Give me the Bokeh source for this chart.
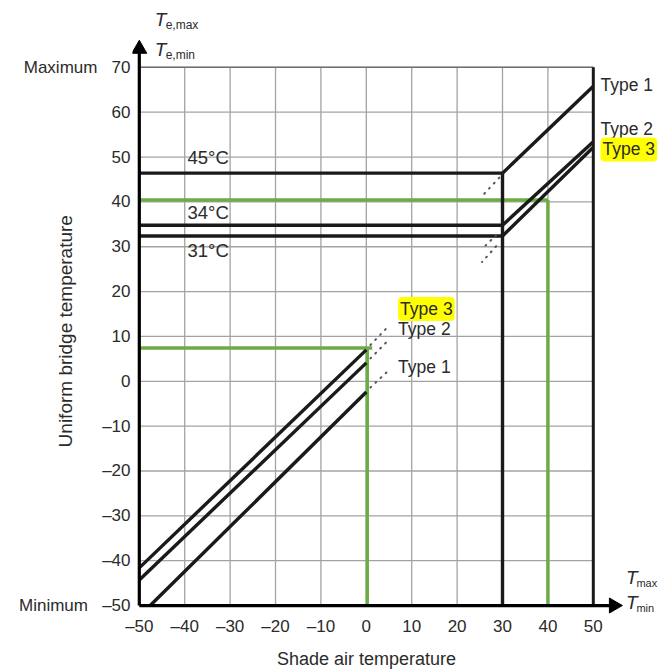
import math
from bokeh.plotting import figure
from bokeh.models import FixedTicker, Range1d, Label
from bokeh.embed import file_html
from bokeh.resources import INLINE

FONT = "Liberation Sans"
TXT = "#2b2b2b"
GREEN = "#6cab45"
BLACK = "#1a1a1a"
NB = "\u00a0"

# ---- data ----
x_ticks = [-50, -40, -30, -20, -10, 0, 10, 20, 30, 40, 50]
y_ticks = [-50, -40, -30, -20, -10, 0, 10, 20, 30, 40, 50, 60, 70]
y_tick_text = {70: "Maximum\u00a0\u00a0\u00a070", -50: "Minimum\u00a0\u00a0\u00a0\u201350"}

# maximum uniform bridge temperature (shade air T_max >= 30)
max_x = [30, 50]
t1_max = [46.4, 65.8]
t2_max = [34.8, 53.4]
t3_max = [32.4, 52.2]
cap_x = [-50, 30]
cap_levels = [46.4, 34.8, 32.4]
cap_labels = ["45°C", "34°C", "31°C"]
cap_label_y = [50.0, 37.7, 29.2]
split_x = 30

# minimum uniform bridge temperature
t1_min_x = [-47.6, 0]
t1_min_y = [-50, -2.4]
t2_min_x = [-50, 0]
t2_min_y = [-44.3, 4.1]
t3_min_x = [-50, 0]
t3_min_y = [-41.6, 7.0]

# dotted extensions
min_ext_x = [[0.9, 5.1], [0.9, 5.1], [0.9, 5.1]]
min_ext_y = [[-1.4, 2.6], [5.1, 9.4], [8.1, 12.5]]
max_ext_x = [[29.3, 25.5], [28.6, 25.5], [28.6, 25.5]]
max_ext_y = [[45.4, 41.3], [32.6, 29.5], [30.1, 26.6]]

# worked examples (green)
ex_min_T = 0.2
ex_min_Te = 7.4
ex_max_T = 40
ex_max_Te = 40.4

X0, X1 = x_ticks[0], x_ticks[-1]
Y0, Y1 = y_ticks[0], y_ticks[-1]

p = figure(width=660, height=671, x_range=Range1d(-51.5, 64.8), y_range=Range1d(-52, 84.9),
           output_backend="svg", toolbar_location=None,
           min_border_left=132, min_border_right=0, min_border_top=0, min_border_bottom=56)
p.background_fill_color = "white"
p.border_fill_color = "white"
p.outline_line_color = None
p.grid.visible = False

for ax, ticks in ((p.xaxis[0], x_ticks), (p.yaxis[0], y_ticks)):
    ax.ticker = FixedTicker(ticks=ticks)
    ax.major_label_overrides = {v: (f"\u2013{abs(v)}" if v < 0 else str(v)) for v in ticks}
    ax.axis_line_color = None
    ax.major_tick_line_color = None
    ax.minor_tick_line_color = None
    ax.major_tick_out = 0
    ax.major_tick_in = 0
    ax.major_label_text_font = FONT
    ax.major_label_text_font_size = "17px"
    ax.major_label_text_color = TXT
    ax.major_label_standoff = 2
    ax.axis_label_text_font = FONT
    ax.axis_label_text_font_style = "normal"
    ax.axis_label_text_color = TXT

p.yaxis[0].major_label_overrides = {**p.yaxis[0].major_label_overrides, **y_tick_text}
# trailing no-break spaces centre the titles on the chart box rather than the whole frame
p.xaxis.axis_label = "Shade air temperature" + NB * 12
p.yaxis.axis_label = "Uniform bridge temperature" + NB * 9
p.xaxis.axis_label_text_font_size = "18px"
p.yaxis.axis_label_text_font_size = "19px"
p.xaxis.axis_label_standoff = 10
p.yaxis.axis_label_standoff = -60

# grid (only inside the chart box)
p.segment(x0=x_ticks, y0=[Y0] * len(x_ticks), x1=x_ticks, y1=[Y1] * len(x_ticks),
          line_color="#a3a3a3", line_width=1.3)
p.segment(x0=[X0] * len(y_ticks), y0=y_ticks, x1=[X1] * len(y_ticks), y1=y_ticks,
          line_color="#a3a3a3", line_width=1.3)
p.line([X0, X1], [Y1, Y1], line_color="#6e6e6e", line_width=1.5)

# green worked examples
p.line([X0, ex_max_T], [ex_max_Te, ex_max_Te], line_color=GREEN, line_width=3.5)
p.line([ex_max_T, ex_max_T], [Y0, ex_max_Te], line_color=GREEN, line_width=3.5)
p.line([X0, ex_min_T + 1.1], [ex_min_Te, ex_min_Te], line_color=GREEN, line_width=3.5)
p.line([ex_min_T, ex_min_T], [Y0, ex_min_Te], line_color=GREEN, line_width=3.5)

BL = dict(line_color=BLACK, line_width=3.4)
for lvl in cap_levels:
    p.line(cap_x, [lvl, lvl], **BL)
p.line([split_x, split_x], [Y0, cap_levels[0]], **BL)
p.line(max_x, t1_max, **BL)
p.line(max_x, t2_max, **BL)
p.line(max_x, t3_max, **BL)
p.line(t1_min_x, t1_min_y, **BL)
p.line(t2_min_x, t2_min_y, **BL)
p.line(t3_min_x, t3_min_y, **BL)

DOT = dict(line_color="#555555", line_width=2, line_dash="1 6", line_cap="round")
p.multi_line(min_ext_x, min_ext_y, **DOT)
p.multi_line(max_ext_x, max_ext_y, **DOT)

# right border and axis spines with arrow heads
p.line([X1, X1], [Y0, Y1], line_color=BLACK, line_width=3)
p.line([X0, X0], [Y0, 74.1], line_color="black", line_width=3.2)
p.line([X0, 54.5], [Y0, Y0], line_color="black", line_width=3.2)
p.scatter([X0], [74.1], marker="triangle", size=15, fill_color="black", line_color="black")
p.scatter([54.5], [Y0], marker="triangle", size=15, angle=-math.pi / 2,
          fill_color="black", line_color="black")


def lbl(x, y, text, size="18px", align="left", style="normal", bg=None):
    kw = dict(x=x, y=y, text=text, text_font=FONT, text_font_size=size, text_color=TXT,
              text_align=align, text_baseline="middle", text_font_style=style)
    if bg:
        kw.update(background_fill_color=bg, padding=2, border_radius=4)
    p.add_layout(Label(**kw))


for t, yy in zip(cap_labels, cap_label_y):
    lbl(-39.4, yy, t, size="18.5px")

lbl(51.6, 66.0, "Type 1", size="17.5px")
lbl(51.6, 56.2, "Type 2", size="17.5px")
lbl(51.6, 51.7, "Type 3", size="17.5px", bg="#ffff00")
lbl(7.0, 16.1, "Type 3", size="17.5px", bg="#ffff00")
lbl(7.0, 11.6, "Type 2", size="17.5px")
lbl(7.0, 3.2, "Type 1", size="17.5px")

# axis symbols
lbl(-46.6, 80.7, "T", size="19px", style="italic")
lbl(-44.2, 79.4, "e,max", size="12px")
lbl(-46.6, 74.0, "T", size="19px", style="italic")
lbl(-44.2, 72.8, "e,min", size="12px")
lbl(57.2, -43.8, "T", size="19px", style="italic")
lbl(59.5, -45.0, "max", size="11px")
lbl(57.2, -49.4, "T", size="19px", style="italic")
lbl(59.5, -50.6, "min", size="11px")

open("out.html", "w").write(file_html(p, INLINE))
